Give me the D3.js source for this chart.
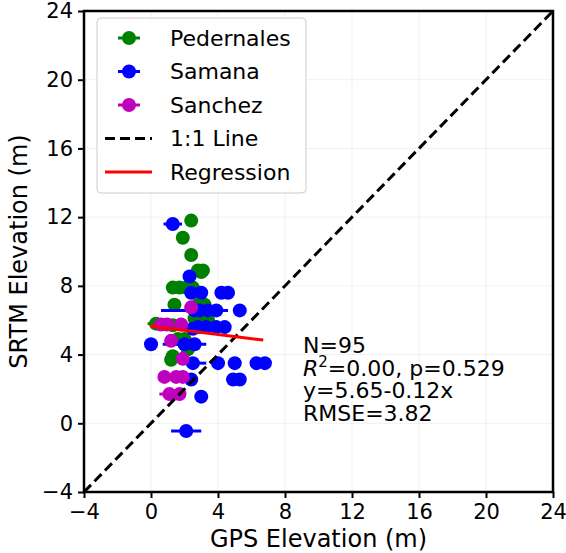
<!DOCTYPE html>
<html>
<head>
<meta charset="utf-8">
<script src="https://cdn.jsdelivr.net/npm/d3@7"></script>
<style>
  body { margin: 0; background: #fff; }
  text { font-family: "DejaVu Sans", sans-serif; }
</style>
</head>
<body>
<div id="chart"></div>
<script>
const width = 566;
const height = 553;

// [gps, srtm, xerr]
const pedernales = [
    [2.4, 11.8, 0.3], [1.9, 10.8, 0.1], [2.4, 9.8, 0.1], [2.8, 8.9, 0.2], [3.1, 8.9, 0.2],
    [1.3, 7.9, 0.1], [1.7, 7.9, 0.1], [2.1, 7.9, 0.1], [2.5, 7.9, 0.1], [3.0, 8.8, 0.1],
    [1.4, 6.9, 0.1], [2.8, 6.9, 0.1], [3.2, 6.9, 0.1], [2.6, 6.1, 0.1], [2.9, 6.0, 0.1],
    [3.4, 6.0, 0.1], [0.3, 5.8, 0.5], [1.3, 5.7, 0.1], [1.6, 4.9, 0.1], [2.0, 4.9, 0.1],
    [2.2, 4.3, 0.1], [1.3, 3.9, 0.1], [1.2, 3.7, 0.1]
];
const samana = [
    [1.3, 11.6, 0.55], [2.3, 8.55, 0.1], [2.4, 7.6, 0.1], [3.0, 7.6, 0.1], [4.2, 7.6, 0.1],
    [4.6, 7.6, 0.1], [2.6, 6.57, 2.0], [2.9, 6.57, 0.1], [3.4, 6.57, 0.1], [3.9, 6.57, 0.1],
    [5.3, 6.57, 0.2], [2.5, 5.5, 0.1], [2.8, 5.6, 0.1], [3.3, 5.6, 0.1], [3.9, 5.6, 0.1],
    [4.4, 5.6, 0.1], [0.0, 4.6, 0.3], [2.0, 4.6, 1.3], [2.6, 4.6, 0.1], [2.5, 3.5, 0.8],
    [4.0, 3.5, 0.1], [5.0, 3.5, 0.1], [6.3, 3.5, 0.1], [6.8, 3.5, 0.1], [2.4, 2.55, 0.1],
    [4.9, 2.55, 0.4], [5.3, 2.55, 0.1], [3.0, 1.55, 0.1], [2.1, -0.45, 0.9]
];
const sanchez = [
    [2.4, 6.75, 0.1], [0.6, 5.75, 0.1], [0.95, 5.75, 0.1], [1.8, 5.75, 0.1], [1.2, 4.8, 0.1],
    [1.9, 3.75, 0.1], [0.8, 2.7, 0.1], [1.5, 2.7, 0.1], [1.9, 2.7, 0.1], [1.1, 1.7, 0.6],
    [1.7, 1.7, 0.1]
];
const seriesNames = ["Pedernales", "Samana", "Sanchez"];
const seriesColors = ["green", "blue", "#bf00bf"];
const ticks = [-4, 0, 4, 8, 12, 16, 20, 24];
const regression = { intercept: 5.65, slope: -0.12, xMin: -0.06, xMax: 6.7 };
const statLines = ["N=95", "R2", "y=5.65-0.12x", "RMSE=3.82"];

const svg = d3.select("#chart")
    .append("svg")
    .attr("width", width)
    .attr("height", height);

const x = d3.scaleLinear().domain([-4, 24]).range([84, 553]);
const y = d3.scaleLinear().domain([-4, 24]).range([492, 11]);

// grid
svg.append("g").selectAll("line.gx")
    .data(ticks).enter().append("line")
    .attr("x1", d => x(d)).attr("x2", d => x(d))
    .attr("y1", y(-4)).attr("y2", y(24))
    .attr("stroke", "#000").attr("stroke-opacity", 0.06).attr("stroke-width", 1);
svg.append("g").selectAll("line.gy")
    .data(ticks).enter().append("line")
    .attr("y1", d => y(d)).attr("y2", d => y(d))
    .attr("x1", x(-4)).attr("x2", x(24))
    .attr("stroke", "#000").attr("stroke-opacity", 0.06).attr("stroke-width", 1);

// points with horizontal error bars
[pedernales, samana, sanchez].forEach((data, i) => {
    const g = svg.append("g");
    g.selectAll("line")
        .data(data).enter().append("line")
        .attr("x1", d => x(d[0] - d[2])).attr("x2", d => x(d[0] + d[2]))
        .attr("y1", d => y(d[1])).attr("y2", d => y(d[1]))
        .attr("stroke", seriesColors[i]).attr("stroke-width", 3);
    g.selectAll("circle")
        .data(data).enter().append("circle")
        .attr("cx", d => x(d[0]))
        .attr("cy", d => y(d[1]))
        .attr("r", 7)
        .attr("fill", seriesColors[i]);
});

// 1:1 line
svg.append("line")
    .attr("x1", x(-4)).attr("y1", y(-4))
    .attr("x2", x(24)).attr("y2", y(24))
    .attr("stroke", "#000").attr("stroke-width", 3)
    .attr("stroke-dasharray", "10,5");

// regression
svg.append("line")
    .attr("x1", x(regression.xMin)).attr("y1", y(regression.intercept + regression.slope * regression.xMin))
    .attr("x2", x(regression.xMax)).attr("y2", y(regression.intercept + regression.slope * regression.xMax))
    .attr("stroke", "red").attr("stroke-width", 3);

// axes
const fmt = d => d < 0 ? "\u2212" + Math.abs(d) : d;
const xAxis = svg.append("g")
    .attr("transform", `translate(0,${y(-4)})`)
    .call(d3.axisBottom(x).tickValues(ticks).tickSize(6).tickSizeOuter(0).tickFormat(fmt));
const yAxis = svg.append("g")
    .attr("transform", `translate(${x(-4)},0)`)
    .call(d3.axisLeft(y).tickValues(ticks).tickSize(6).tickSizeOuter(0).tickFormat(fmt));
[xAxis, yAxis].forEach(a => {
    a.select(".domain").remove();
    a.selectAll(".tick line").attr("stroke-width", 2);
    a.selectAll(".tick text").attr("font-size", 21).attr("fill", "#000")
        .attr("font-family", "DejaVu Sans, sans-serif");
});
xAxis.selectAll(".tick text").attr("y", 9).attr("dy", "0.85em");
yAxis.selectAll(".tick text").attr("x", -11);

// frame
svg.append("rect")
    .attr("x", x(-4)).attr("y", y(24))
    .attr("width", x(24) - x(-4)).attr("height", y(-4) - y(24))
    .attr("fill", "none").attr("stroke", "#000").attr("stroke-width", 2.5);

// axis labels
svg.append("text")
    .attr("x", (x(-4) + x(24)) / 2).attr("y", 547)
    .attr("text-anchor", "middle").attr("font-size", 24)
    .text("GPS Elevation (m)");
svg.append("text")
    .attr("transform", `translate(27,${(y(-4) + y(24)) / 2}) rotate(-90)`)
    .attr("text-anchor", "middle").attr("font-size", 24)
    .text("SRTM Elevation (m)");

// legend
const legend = svg.append("g");
legend.append("rect")
    .attr("x", 97).attr("y", 18).attr("width", 209).attr("height", 175)
    .attr("rx", 4)
    .attr("fill", "#fff").attr("fill-opacity", 0.85)
    .attr("stroke", "#ccc").attr("stroke-width", 1);
const legendItems = [
    { label: seriesNames[0], color: seriesColors[0], type: "point" },
    { label: seriesNames[1], color: seriesColors[1], type: "point" },
    { label: seriesNames[2], color: seriesColors[2], type: "point" },
    { label: "1:1 Line", color: "#000", type: "dash" },
    { label: "Regression", color: "red", type: "line" }
];
legendItems.forEach((d, i) => {
    const ly = 38 + i * 33.5;
    const row = legend.append("g");
    if (d.type === "point") {
        row.append("line")
            .attr("x1", 118).attr("x2", 140).attr("y1", ly).attr("y2", ly)
            .attr("stroke", d.color).attr("stroke-width", 3);
        row.append("circle").attr("cx", 129).attr("cy", ly).attr("r", 7).attr("fill", d.color);
    } else {
        row.append("line")
            .attr("x1", 105).attr("x2", 152).attr("y1", ly).attr("y2", ly)
            .attr("stroke", d.color).attr("stroke-width", 3)
            .attr("stroke-dasharray", d.type === "dash" ? "10,5" : null);
    }
    row.append("text")
        .attr("x", 170).attr("y", ly).attr("dy", "0.36em")
        .attr("font-size", 22)
        .text(d.label);
});

// stats text
const stats = svg.append("text").attr("font-size", 22);
statLines.forEach((s, i) => {
    const t = stats.append("tspan").attr("x", 303).attr("y", 353 + i * 22.5);
    if (s === "R2") {
        t.append("tspan").attr("font-style", "italic").text("R");
        t.append("tspan").attr("font-size", 15).attr("dy", -9).text("2");
        t.append("tspan").attr("dy", 9).text("=0.00, p=0.529");
    } else {
        t.text(s);
    }
});
</script>
</body>
</html>
